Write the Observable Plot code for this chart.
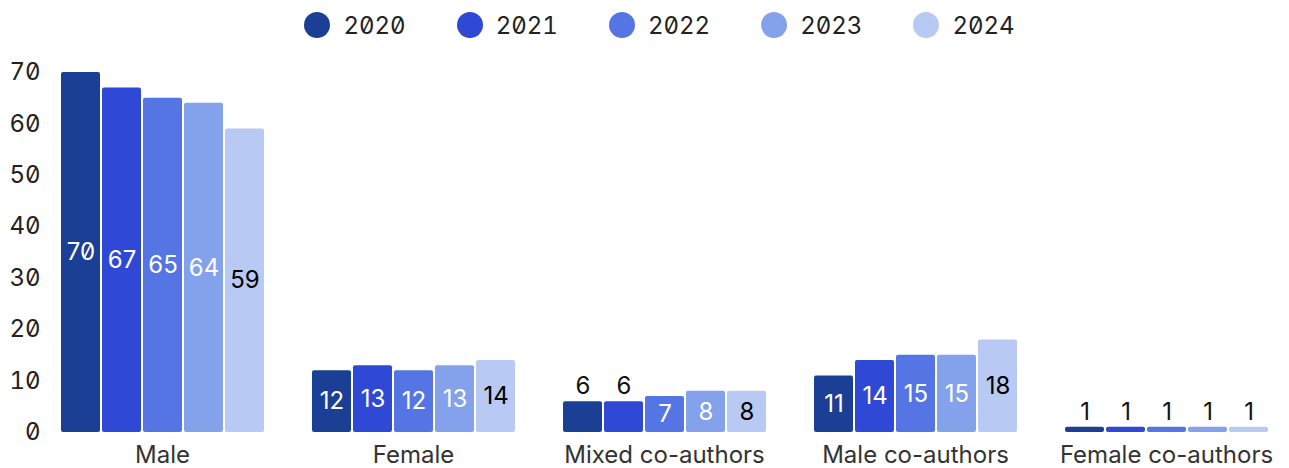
<!DOCTYPE html>
<html>
<head>
<meta charset="utf-8">
<script src="https://cdn.jsdelivr.net/npm/d3@7"></script>
<script src="https://cdn.jsdelivr.net/npm/@observablehq/plot@0.6"></script>
<style>
  html, body { margin: 0; padding: 0; background: #fff; }
  body { width: 1289px; height: 468px; overflow: hidden; font-family: Inter, "Noto Sans", sans-serif; }
  #legend { height: 50px; display: flex; justify-content: center; align-items: center; padding-left: 30px; box-sizing: border-box;
    font-variant-numeric: tabular-nums slashed-zero; font-feature-settings: "tnum" 1, "zero" 1; font-size: 24px; color: #222; }
  .item { display: flex; align-items: center; margin: 0 25.5px; }
  .sw { width: 26px; height: 26px; border-radius: 50%; margin-right: 13px; }
  svg { overflow: visible; }
  svg text { font-variant-numeric: slashed-zero; font-feature-settings: "zero" 1; }
  svg g.ytick text { font-variant-numeric: tabular-nums slashed-zero; font-feature-settings: "tnum" 1, "zero" 1; }
</style>
</head>
<body>
<div id="legend"></div>
<div id="chart"></div>
<script>
const categories = ["Male", "Female", "Mixed co-authors", "Male co-authors", "Female co-authors"];
const years = ["2020", "2021", "2022", "2023", "2024"];
const colors = ["#1b3f94", "#2f49d6", "#5475e3", "#84a1ec", "#b8caf4"];
const values2020 = [70, 12, 6, 11, 1];
const values2021 = [67, 13, 6, 14, 1];
const values2022 = [65, 12, 7, 15, 1];
const values2023 = [64, 13, 8, 15, 1];
const values2024 = [59, 14, 8, 18, 1];
const yTicks = [0, 10, 20, 30, 40, 50, 60, 70];

const series = [values2020, values2021, values2022, values2023, values2024];
const data = [];
categories.forEach((c, i) => {
  years.forEach((y, j) => data.push({category: c, year: y, value: series[j][i]}));
});
const inside = data.filter(d => d.value >= 7);
const above = data.filter(d => d.value < 7);

// legend
const legend = document.getElementById("legend");
years.forEach((y, i) => {
  const it = document.createElement("div");
  it.className = "item";
  const sw = document.createElement("span");
  sw.className = "sw";
  sw.style.background = colors[i];
  const t = document.createElement("span");
  t.textContent = y;
  it.appendChild(sw); it.appendChild(t);
  legend.appendChild(it);
});

const chart = Plot.plot({
  width: 1289,
  height: 418,
  marginLeft: 60,
  marginRight: 20,
  marginTop: 22,
  marginBottom: 36,
  style: {fontFamily: "Inter, sans-serif", background: "#fff"},
  fx: {domain: categories, paddingInner: 0.187, paddingOuter: 0, label: null, axis: null},
  x: {domain: years, axis: null, paddingInner: 0.05, paddingOuter: 0},
  y: {domain: [0, 70], axis: null},
  color: {domain: years, range: colors},
  marks: [
    Plot.barY(data, {fx: "category", x: "year", y: "value", fill: "year", rx: 2}),
    Plot.text(inside, {fx: "category", x: "year", y: d => d.value / 2, text: d => String(d.value),
      fill: d => d.year === "2024" ? "#000" : "#fff", fontSize: 24}),
    Plot.text(above, {fx: "category", x: "year", y: "value", text: d => String(d.value),
      fill: "#111", fontSize: 24, dy: -15}),
    Plot.axisY({ticks: yTicks, tickSize: 0, tickPadding: 20, fontSize: 24, label: null, color: "#222", textAnchor: "end", className: "ytick"}),
    Plot.axisFx({anchor: "bottom", tickSize: 0, tickPadding: 13, fontSize: 24, label: null, color: "#333"})
  ]
});
document.getElementById("chart").appendChild(chart);
</script>
</body>
</html>
